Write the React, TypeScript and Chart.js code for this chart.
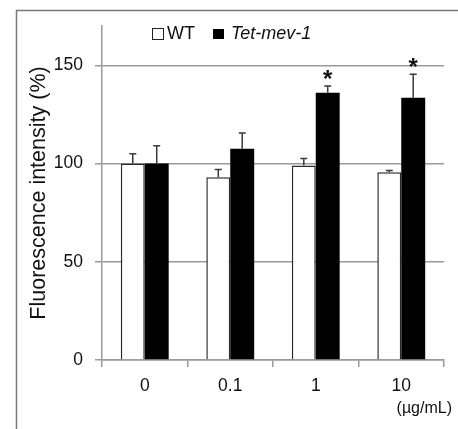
import React, { useEffect, useRef } from "react";
import { Chart, registerables } from "chart.js";

Chart.register(...registerables);

const categories = ["0", "0.1", "1", "10"];
const seriesNames = ["WT", "Tet-mev-1"];
const wtValues = [100, 93, 99, 95.5];
const wtErrors = [5, 4, 3.5, 1];
const tetValues = [100, 107.5, 136, 133.5];
const tetErrors = [9, 8, 3.5, 12];
const tetSignificant = [false, false, true, true];
const yTicks = [0, 50, 100, 150];
const yTitle = "Fluorescence intensity (%)";
const unitLabel = "(µg/mL)";

const FONT = "'Liberation Sans', Arial, sans-serif";
const AXIS_GRAY = "#9a9a9a";

const errorsBySeries = [wtErrors, tetErrors];

const framePlugin = {
  id: "frame",
  beforeDraw(chart: any) {
    const ctx = chart.ctx;
    ctx.save();
    ctx.strokeStyle = "#7a7a7a";
    ctx.lineWidth = 1.5;
    ctx.beginPath();
    ctx.moveTo(16.5, chart.height);
    ctx.lineTo(16.5, 10.5);
    ctx.lineTo(chart.width, 10.5);
    ctx.stroke();
    ctx.restore();
  },
};

const errorBarPlugin = {
  id: "errorBars",
  afterDatasetsDraw(chart: any) {
    const ctx = chart.ctx;
    const yScale = chart.scales.y;
    ctx.save();
    ctx.strokeStyle = "#3a3a3a";
    ctx.lineWidth = 1.5;
    chart.data.datasets.forEach((ds: any, i: number) => {
      const meta = chart.getDatasetMeta(i);
      meta.data.forEach((bar: any, j: number) => {
        const v = ds.data[j];
        const top = yScale.getPixelForValue(v + errorsBySeries[i][j]);
        ctx.beginPath();
        ctx.moveTo(bar.x, bar.y);
        ctx.lineTo(bar.x, top);
        ctx.moveTo(bar.x - 3.5, top);
        ctx.lineTo(bar.x + 3.5, top);
        ctx.stroke();
        if (i === 1 && tetSignificant[j]) {
          ctx.fillStyle = "#111";
          ctx.font = `bold 24px ${FONT}`;
          ctx.textAlign = "center";
          ctx.textBaseline = "alphabetic";
          ctx.fillText("*", bar.x, top + 1);
        }
      });
    });
    ctx.restore();
  },
};

const legendPlugin = {
  id: "customLegend",
  afterDraw(chart: any) {
    const ctx = chart.ctx;
    ctx.save();
    ctx.textBaseline = "middle";
    ctx.textAlign = "left";
    ctx.strokeStyle = "#222";
    ctx.lineWidth = 1;
    ctx.fillStyle = "#fff";
    ctx.fillRect(152.5, 28.5, 11, 11);
    ctx.strokeRect(152.5, 28.5, 11, 11);
    ctx.fillStyle = "#111";
    ctx.font = `18px ${FONT}`;
    ctx.fillText(seriesNames[0], 167, 34);
    ctx.fillStyle = "#000";
    ctx.fillRect(213, 29, 11, 10);
    ctx.fillStyle = "#111";
    ctx.font = `italic 18px ${FONT}`;
    ctx.fillText(seriesNames[1], 231, 34);
    ctx.font = `16px ${FONT}`;
    ctx.textAlign = "right";
    ctx.fillStyle = "#111";
    ctx.fillText(unitLabel, 452, 409);
    ctx.restore();
  },
};

export default function App() {
  const canvasRef = useRef<HTMLCanvasElement | null>(null);

  useEffect(() => {
    if (!canvasRef.current) return;
    const chart = new Chart(canvasRef.current, {
      type: "bar",
      data: {
        labels: categories,
        datasets: [
          {
            label: seriesNames[0],
            data: wtValues,
            backgroundColor: "#ffffff",
            borderColor: "#2a2a2a",
            borderWidth: 1.5,
            categoryPercentage: 0.56,
            barPercentage: 1,
          },
          {
            label: seriesNames[1],
            data: tetValues,
            backgroundColor: "#000000",
            borderColor: "#000000",
            borderWidth: 0,
            categoryPercentage: 0.56,
            barPercentage: 1,
          },
        ],
      },
      options: {
        responsive: false,
        animation: false,
        layout: { padding: { left: 22, top: 26, right: 14, bottom: 0 } },
        plugins: {
          legend: { display: false },
          tooltip: { enabled: false },
        },
        scales: {
          x: {
            grid: {
              drawOnChartArea: false,
              drawTicks: true,
              tickLength: 7,
              color: AXIS_GRAY,
              lineWidth: 1.5,
              offset: true,
            },
            border: { color: AXIS_GRAY, width: 1.5 },
            ticks: {
              color: "#111",
              font: { size: 17.5, family: FONT },
              padding: 9,
              maxRotation: 0,
            },
            afterFit: (s: any) => {
              s.height = 69;
            },
          },
          y: {
            min: 0,
            max: 170,
            afterBuildTicks: (s: any) => {
              s.ticks = yTicks.map((v) => ({ value: v }));
            },
            grid: {
              color: AXIS_GRAY,
              lineWidth: 1.5,
              tickLength: 7,
            },
            border: { color: AXIS_GRAY, width: 1.5 },
            ticks: {
              color: "#111",
              font: { size: 17.5, family: FONT },
              padding: 12,
            },
            title: {
              display: true,
              text: yTitle,
              color: "#111",
              font: { size: 21.5, family: FONT },
              padding: { top: 4, bottom: 4 },
            },
            afterFit: (s: any) => {
              s.width = 80;
            },
          },
        },
      },
      plugins: [framePlugin, errorBarPlugin, legendPlugin],
    });
    return () => chart.destroy();
  }, []);

  return (
    <div style={{ position: "absolute", left: 0, top: 0, width: 458, height: 429, background: "#fff" }}>
      <canvas ref={canvasRef} width={458} height={429} style={{ display: "block" }} />
    </div>
  );
}
